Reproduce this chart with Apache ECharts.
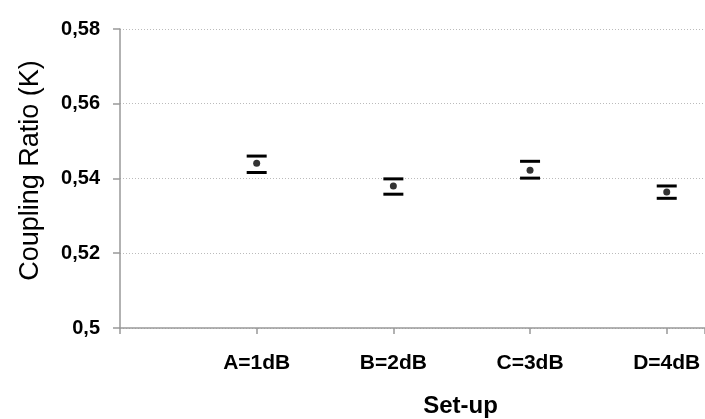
<!DOCTYPE html>
<html>
<head>
<meta charset="utf-8">
<script src="https://cdn.jsdelivr.net/npm/echarts@6/dist/echarts.min.js"></script>
<style>
    html, body { margin: 0; padding: 0; background: #fff; }
    #couplingChart { width: 705px; height: 419px; }
</style>
</head>
<body>
<div id="couplingChart"></div>
<script>
    // set-up categories, placed at x = 1..4
    const categories = ['A=1dB', 'B=2dB', 'C=3dB', 'D=4dB']
    // coupling ratio K: mean and error bar ends
    const meanValues = [0.5441, 0.5380, 0.5422, 0.5364]
    const upperValues = [0.5460, 0.5399, 0.5446, 0.5380]
    const lowerValues = [0.5416, 0.5358, 0.5401, 0.5347]
    const yTicks = [0.5, 0.52, 0.54, 0.56, 0.58]

    const font = "'Liberation Sans', Arial, sans-serif"

    const myChart = echarts.init(document.getElementById('couplingChart'))

    const option = {
        animation: false,
        grid: {
            left: 120,
            top: 29,
            bottom: 91,
            right: 0,
            outerBoundsMode: 'none'
        },
        xAxis: {
            type: 'value',
            min: 0,
            max: 4.28,  // original plot is cropped on the right
            interval: 1,
            name: 'Set-up',
            nameLocation: 'middle',
            nameGap: 66,
            nameTextStyle: {
                fontFamily: font,
                fontSize: 24,
                fontWeight: 'bold',
                color: '#000',
                padding: [0, 0, 0, 96]  // title sits right of the visible middle
            },
            axisLine: {
                lineStyle: { color: '#999', width: 1.5 }
            },
            axisTick: {
                length: 6,
                lineStyle: { color: '#999', width: 1.5 }
            },
            axisLabel: {
                margin: 25,
                fontFamily: font,
                fontSize: 21,
                fontWeight: 'bold',
                color: '#000',
                formatter: function (v) {
                    return categories[v - 1] || ''
                }
            },
            splitLine: { show: false }
        },
        yAxis: {
            type: 'value',
            min: yTicks[0],
            max: yTicks[yTicks.length - 1],
            interval: 0.02,
            name: 'Coupling Ratio (K)',
            nameLocation: 'middle',
            nameGap: 76,
            nameTextStyle: {
                fontFamily: font,
                fontSize: 27,
                color: '#000',
                padding: [0, 0, 0, 16]
            },
            axisLine: {
                show: true,
                lineStyle: { color: '#999', width: 1.5 }
            },
            axisTick: {
                show: true,
                length: 7,
                lineStyle: { color: '#999', width: 1.5 }
            },
            axisLabel: {
                margin: 20,
                fontFamily: font,
                fontSize: 20,
                fontWeight: 'bold',
                color: '#000',
                formatter: function (v) {
                    return String(+v.toFixed(2)).replace('.', ',')
                }
            },
            splitLine: {
                lineStyle: { color: '#bbb', type: [1, 2], width: 1 }
            }
        },
        series: [
            {
                name: 'error',
                type: 'custom',
                renderItem: function (params, api) {
                    const x = api.value(0)
                    const hi = api.coord([x, api.value(1)])
                    const lo = api.coord([x, api.value(2)])
                    const half = 10
                    const style = { stroke: '#000', lineWidth: 3 }
                    return {
                        type: 'group',
                        children: [
                            { type: 'line', shape: { x1: hi[0] - half, y1: hi[1], x2: hi[0] + half, y2: hi[1] }, style: style },
                            { type: 'line', shape: { x1: lo[0] - half, y1: lo[1], x2: lo[0] + half, y2: lo[1] }, style: style }
                        ]
                    }
                },
                data: categories.map((c, i) => [i + 1, upperValues[i], lowerValues[i]]),
                z: 2
            },
            {
                name: 'K',
                type: 'scatter',
                symbol: 'circle',
                symbolSize: 7,
                itemStyle: { color: '#000' },
                data: categories.map((c, i) => [i + 1, meanValues[i]]),
                z: 3
            }
        ]
    }
    myChart.setOption(option)
</script>
</body>
</html>
